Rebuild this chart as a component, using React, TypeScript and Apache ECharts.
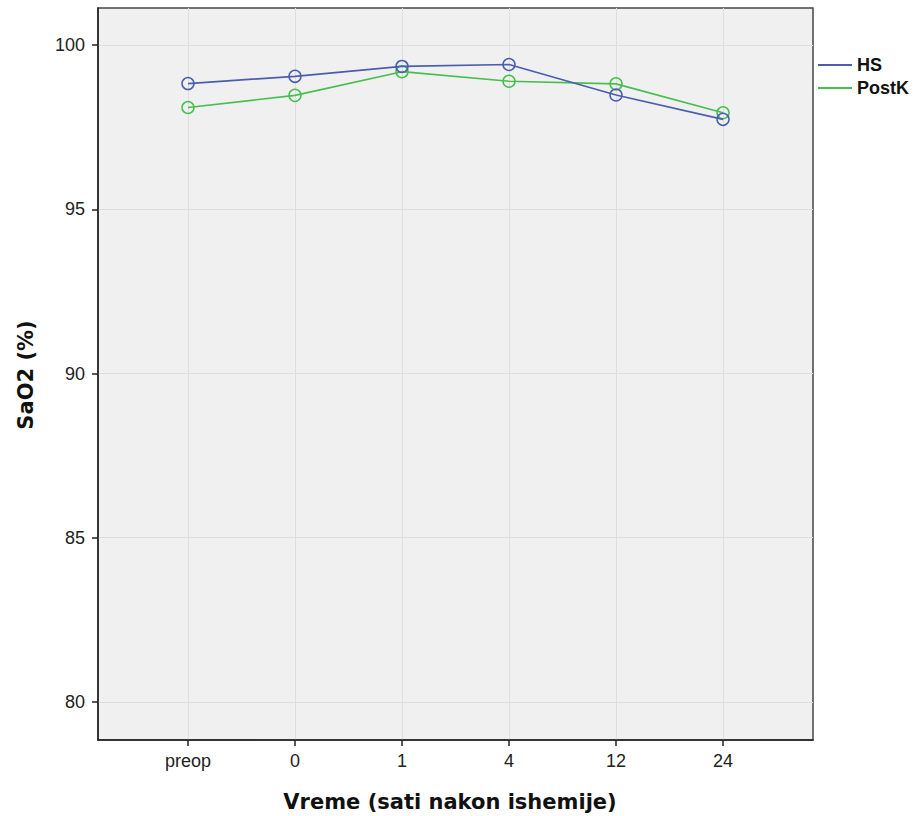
import React, { useEffect, useRef } from "react";
import * as echarts from "echarts";

const categories = ["preop", "0", "1", "4", "12", "24"];
const hsValues = [98.83, 99.05, 99.35, 99.41, 98.48, 97.74];
const postKValues = [98.1, 98.47, 99.19, 98.9, 98.82, 97.94];
const yTicks = [80, 85, 90, 95, 100];

const HS_COLOR = "#4a5db0";
const POSTK_COLOR = "#46bf4f";
const FONT = "'Liberation Sans', Arial, sans-serif";
const TITLE_FONT = "'DejaVu Sans', 'Liberation Sans', sans-serif";

export default function App() {
  const ref = useRef<HTMLDivElement>(null);
  useEffect(() => {
    if (!ref.current) return;
    const chart = echarts.init(ref.current, undefined, { renderer: "svg" });
    const xIdx = categories.map((_, i) => i);
    const mk = (vals: number[]) => vals.map((v, i) => [i, v]);
    const series = (name: string, vals: number[], color: string, z: number) => ({
      name,
      type: "line",
      data: mk(vals),
      symbol: "circle",
      symbolSize: 12,
      color,
      lineStyle: { color, width: 1.7 },
      itemStyle: { color: "rgba(0,0,0,0)", borderColor: color, borderWidth: 1.5 },
      emphasis: { disabled: true },
      z,
    });
    chart.setOption({
      animation: false,
      textStyle: { fontFamily: FONT },
      grid: {
        left: 98,
        top: 8,
        width: 715,
        height: 732,
        show: true,
        backgroundColor: "#f0f0f0",
        borderColor: "#444",
        borderWidth: 1.5,
      },
      xAxis: {
        type: "value",
        min: -0.841,
        max: 5.841,
        axisLine: { show: true, onZero: false, lineStyle: { color: "#222", width: 1.5 } },
        axisTick: { show: true, length: 6, customValues: xIdx, lineStyle: { color: "#222", width: 1.5 } },
        axisLabel: {
          customValues: xIdx,
          margin: 12,
          fontSize: 18,
          color: "#222",
          fontFamily: FONT,
          formatter: (v: number) => categories[Math.round(v)] ?? "",
        },
        splitLine: { show: true, lineStyle: { color: "#dedede", width: 1 } },
      },
      yAxis: {
        type: "value",
        min: 78.84,
        max: 101.13,
        axisLine: { show: true, onZero: false, lineStyle: { color: "#222", width: 1.5 } },
        axisTick: { show: true, length: 6, customValues: yTicks, lineStyle: { color: "#222", width: 1.5 } },
        axisLabel: {
          customValues: yTicks,
          margin: 13,
          fontSize: 18,
          color: "#222",
          fontFamily: FONT,
        },
        splitLine: { show: true, lineStyle: { color: "#dedede", width: 1 } },
      },
      legend: {
        orient: "vertical",
        left: 818,
        top: 56,
        padding: 0,
        icon: "rect",
        itemWidth: 34,
        itemHeight: 2,
        itemGap: 5,
        selectedMode: false,
        textStyle: { fontSize: 18, lineHeight: 18, fontWeight: "bold", color: "#111", fontFamily: FONT },
        data: [
          { name: "HS", itemStyle: { color: HS_COLOR, borderWidth: 0 } },
          { name: "PostK", itemStyle: { color: POSTK_COLOR, borderWidth: 0 } },
        ],
      },
      series: [series("HS", hsValues, HS_COLOR, 3), series("PostK", postKValues, POSTK_COLOR, 2)],
      graphic: [
        {
          type: "text",
          x: 450,
          y: 802,
          style: {
            text: "Vreme (sati nakon ishemije)",
            font: `bold 21px ${TITLE_FONT}`,
            fill: "#111",
            align: "center",
            verticalAlign: "middle",
          },
        },
        {
          type: "text",
          x: 26,
          y: 375,
          rotation: Math.PI / 2,
          style: {
            text: "SaO2 (%)",
            font: `bold 21px ${TITLE_FONT}`,
            fill: "#111",
            align: "center",
            verticalAlign: "middle",
          },
        },
      ],
    });
    return () => chart.dispose();
  }, []);
  return (
    <div
      ref={ref}
      style={{ position: "fixed", left: 0, top: 0, width: 915, height: 816, background: "#fff" }}
    />
  );
}
